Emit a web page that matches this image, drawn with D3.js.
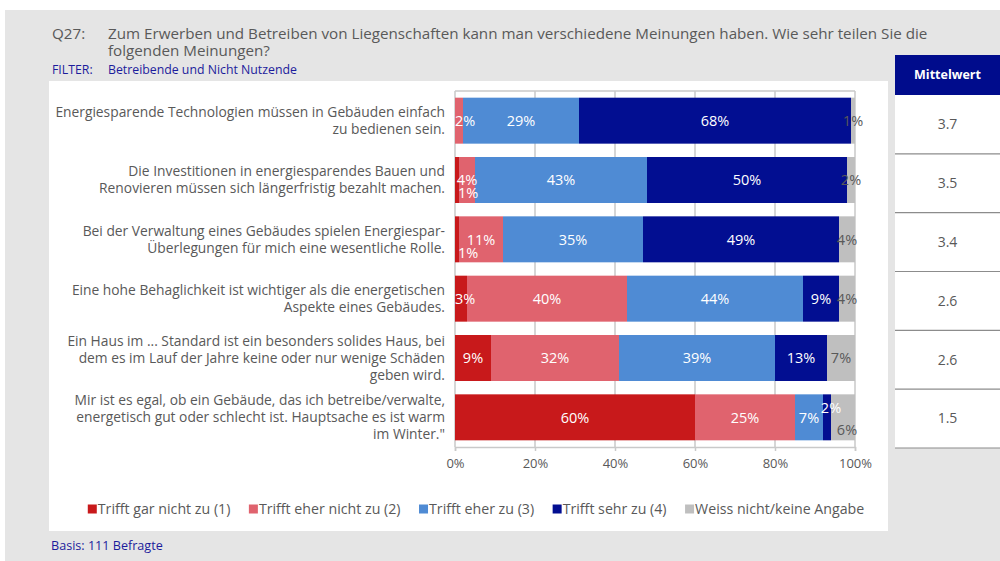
<!DOCTYPE html>
<html>
<head>
<meta charset="utf-8">
<script src="https://cdn.jsdelivr.net/npm/d3@7/dist/d3.min.js"></script>
<style>
  html, body { margin: 0; padding: 0; background: #fff; }
  svg { display: block; }
  text { font-family: "Open Sans", "Noto Sans", sans-serif; }
</style>
</head>
<body>
<svg id="chart" width="1000" height="561"></svg>
<script>
// ---------- DATA ----------
const questionLabel = "Q27:";
const questionLines = [
  "Zum Erwerben und Betreiben von Liegenschaften kann man verschiedene Meinungen haben. Wie sehr teilen Sie die",
  "folgenden Meinungen?"
];
const filterLabel = "FILTER:";
const filterText = "Betreibende und Nicht Nutzende";
const basisText = "Basis: 111 Befragte";

const categories = [
  ["Energiesparende Technologien müssen in Gebäuden einfach", "zu bedienen sein."],
  ["Die Investitionen in energiesparendes Bauen und", "Renovieren müssen sich längerfristig bezahlt machen."],
  ["Bei der Verwaltung eines Gebäudes spielen Energiespar-", "Überlegungen für mich eine wesentliche Rolle."],
  ["Eine hohe Behaglichkeit ist wichtiger als die energetischen", "Aspekte eines Gebäudes."],
  ["Ein Haus im ... Standard ist ein besonders solides Haus, bei", "dem es im Lauf der Jahre keine oder nur wenige Schäden", "geben wird."],
  ["Mir ist es egal, ob ein Gebäude, das ich betreibe/verwalte,", "energetisch gut oder schlecht ist. Hauptsache es ist warm", "im Winter.\""]
];

const seriesNames = [
  "Trifft gar nicht zu (1)",
  "Trifft eher nicht zu (2)",
  "Trifft eher zu (3)",
  "Trifft sehr zu (4)",
  "Weiss nicht/keine Angabe"
];
const garNicht   = [0, 1, 1, 3, 9, 60];
const eherNicht  = [2, 4, 11, 40, 32, 25];
const eherZu     = [29, 43, 35, 44, 39, 7];
const sehrZu     = [68, 50, 49, 9, 13, 2];
const weissNicht = [1, 2, 4, 4, 7, 6];

const mittelwertHeader = "Mittelwert";
const mittelwert = ["3.7", "3.5", "3.4", "2.6", "2.6", "1.5"];

const xTicks = [0, 20, 40, 60, 80, 100];

// ---------- STYLE ----------
const colors = ["#C8191B", "#E0636E", "#4F8BD4", "#020E91", "#BFBFBF"];
const labelColors = ["#fff", "#fff", "#fff", "#fff", "#595959"];
const textGray = "#595959";
const navyText = "#1C1C9C";

const svg = d3.select("#chart");

// backgrounds
svg.append("rect").attr("x", 5).attr("y", 10).attr("width", 995).attr("height", 551).attr("fill", "#E5E5E5");
svg.append("rect").attr("x", 49).attr("y", 81).attr("width", 839).attr("height", 450).attr("fill", "#fff");

// header
svg.append("text").attr("x", 52).attr("y", 38.5).attr("font-size", 15.2).attr("fill", textGray).text(questionLabel);
questionLines.forEach((l, i) => {
  svg.append("text").attr("x", 108).attr("y", 38.5 + i * 17.5).attr("font-size", 15.2).attr("fill", textGray).text(l);
});
svg.append("text").attr("x", 52).attr("y", 73.5).attr("font-size", 12.3).attr("fill", navyText).text(filterLabel);
svg.append("text").attr("x", 108).attr("y", 73.5).attr("font-size", 12.3).attr("fill", navyText).text(filterText);
svg.append("text").attr("x", 51).attr("y", 550).attr("font-size", 12.6).attr("fill", navyText).text(basisText);

// ---------- CHART ----------
const plot = { left: 455, right: 855, top: 91, bottom: 447 };
const x = d3.scaleLinear().domain([0, 100]).range([plot.left, plot.right]);
const y = d3.scaleBand().domain(d3.range(categories.length)).range([plot.top, plot.bottom]).paddingInner(0.225).paddingOuter(0.1125);

const seriesArrays = [garNicht, eherNicht, eherZu, sehrZu, weissNicht];
const table = categories.map((c, i) => {
  const row = { idx: i };
  seriesNames.forEach((s, k) => row[s] = seriesArrays[k][i]);
  return row;
});
const stack = d3.stack().keys(seriesNames)(table);

const gridColor = "#C9C9C9";
// gridlines
svg.append("g").selectAll("line").data(xTicks).join("line")
  .attr("x1", d => x(d)).attr("x2", d => x(d))
  .attr("y1", plot.top).attr("y2", plot.bottom)
  .attr("stroke", gridColor).attr("stroke-width", 1.5);
svg.append("line").attr("x1", plot.left).attr("x2", plot.right).attr("y1", plot.top).attr("y2", plot.top)
  .attr("stroke", gridColor).attr("stroke-width", 1.5);

// bars
stack.forEach((layer, k) => {
  svg.append("g").selectAll("rect").data(layer).join("rect")
    .attr("x", d => x(d[0]))
    .attr("width", d => x(d[1]) - x(d[0]))
    .attr("y", (d, i) => y(i))
    .attr("height", y.bandwidth())
    .attr("fill", colors[k]);
});

// x axis
const xAxis = d3.axisBottom(x).tickValues(xTicks).tickFormat(d => d + "%").tickSize(4).tickPadding(8);
const ax = svg.append("g").attr("transform", `translate(0,${plot.bottom})`).call(xAxis);
ax.select(".domain").attr("stroke", gridColor).attr("stroke-width", 1.5);
ax.selectAll(".tick line").attr("stroke", gridColor).attr("stroke-width", 1.5);
ax.selectAll(".tick text").attr("fill", textGray).attr("font-size", 13).attr("font-family", "\"Open Sans\", sans-serif");

// category labels
categories.forEach((lines, i) => {
  const cy = y(i) + y.bandwidth() / 2;
  const lh = 16.8;
  const t = svg.append("text").attr("text-anchor", "end").attr("font-size", 13.8).attr("fill", textGray);
  lines.forEach((l, j) => {
    t.append("tspan").attr("x", 445).attr("y", cy + (j - (lines.length - 1) / 2) * lh).attr("dy", "0.35em").text(l);
  });
});

// value labels with simple collision handling
const labelFont = 14.5;
categories.forEach((c, i) => {
  const cy = y(i) + y.bandwidth() / 2;
  const items = stack.map((layer, k) => ({
    k, v: seriesArrays[k][i], x0: x(layer[i][0]), x1: x(layer[i][1])
  })).filter(d => d.v > 0);
  const g = svg.append("g");
  items.forEach(d => {
    d.node = g.append("text").attr("text-anchor", "middle").attr("font-size", labelFont)
      .attr("fill", labelColors[d.k]).attr("dy", "0.36em").text(d.v + "%");
    d.w = d.node.node().getComputedTextLength();
    d.cx = Math.max((d.x0 + d.x1) / 2, plot.left + d.w / 2);
    d.dy = 0;
  });
  const overlap = (a, b) => Math.abs(a.dy - b.dy) < 10 && a.cx - a.w / 2 < b.cx + b.w / 2 && b.cx - b.w / 2 < a.cx + a.w / 2;
  const placed = [];
  items.slice().sort((a, b) => b.v - a.v).forEach(d => {
    const hits = placed.filter(p => overlap(d, p));
    if (hits.length) {
      const left = hits.some(p => p.k < d.k), right = hits.find(p => p.k > d.k);
      if (left && right) { d.dy = -10; right.dy = 12; right.cx += 4; d.cx += 4; }
      else { d.dy = 13; d.cx += 3; }
    }
    placed.push(d);
  });
  items.forEach(d => d.node.attr("x", d.cx).attr("y", cy + d.dy));
});

// ---------- LEGEND ----------
const legend = svg.append("g");
let lx = 0;
seriesNames.forEach((s, k) => {
  const g = legend.append("g");
  g.append("rect").attr("x", 0).attr("y", -4.5).attr("width", 9).attr("height", 9).attr("fill", colors[k]);
  const t = g.append("text").attr("x", 10).attr("dy", "0.35em").attr("font-size", 14.2).attr("fill", textGray).text(s);
  const w = 10 + t.node().getComputedTextLength();
  g.attr("transform", `translate(${lx},0)`);
  lx += w + 18.5;
});
const legW = lx - 18.5;
legend.attr("transform", `translate(${476 - legW / 2},509)`);

// ---------- MITTELWERT TABLE ----------
const tX = 895, tW = 105;
svg.append("rect").attr("x", tX).attr("y", 55).attr("width", tW).attr("height", 40).attr("fill", "#000C8C");
svg.append("text").attr("x", tX + tW / 2).attr("y", 75).attr("dy", "0.35em").attr("text-anchor", "middle")
  .attr("font-size", 12.5).attr("font-weight", "bold").attr("fill", "#fff").text(mittelwertHeader);
const ty = d3.scaleBand().domain(d3.range(mittelwert.length)).range([95, 448]);
svg.append("rect").attr("x", tX).attr("y", 95).attr("width", tW).attr("height", 353).attr("fill", "#fff");
svg.append("g").selectAll("line").data(mittelwert).join("line")
  .attr("x1", tX).attr("x2", tX + tW)
  .attr("y1", (d, i) => ty(i) + ty.bandwidth()).attr("y2", (d, i) => ty(i) + ty.bandwidth())
  .attr("stroke", "#8C8C8C").attr("stroke-width", 1.2);
svg.append("g").selectAll("text").data(mittelwert).join("text")
  .attr("x", tX + tW / 2).attr("y", (d, i) => ty(i) + ty.bandwidth() / 2).attr("dy", "0.35em")
  .attr("text-anchor", "middle").attr("font-size", 14).attr("fill", textGray).text(d => d);
</script>
</body>
</html>
